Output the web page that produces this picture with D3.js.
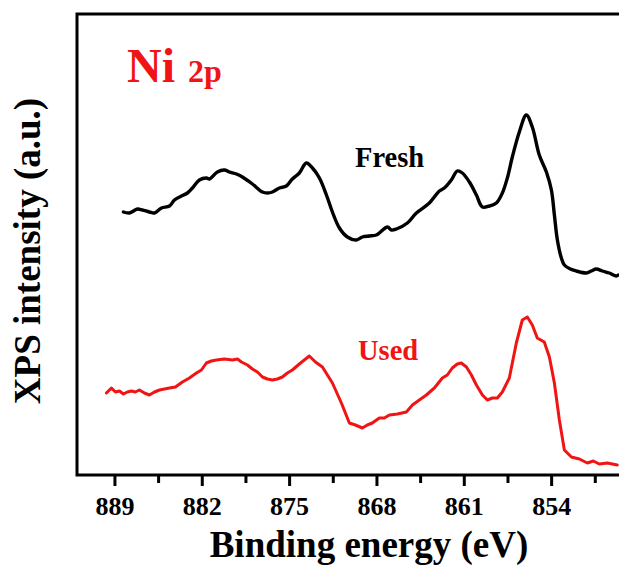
<!DOCTYPE html>
<html>
<head>
<meta charset="utf-8">
<script src="https://cdn.jsdelivr.net/npm/d3@7/dist/d3.min.js"></script>
<style>
  body { margin: 0; background: #fff; }
  svg { display: block; }
  text { font-family: "Liberation Serif", "DejaVu Serif", serif; font-weight: bold; }
</style>
</head>
<body>
<svg width="619" height="567"></svg>
<script>
// Ni 2p XPS spectra (intensity in a.u.)
const freshEnergy = [888.28, 887.80, 887.16, 886.76, 886.20, 885.79, 885.23, 884.59, 884.19, 883.63,
  883.15, 882.75, 882.19, 881.63, 881.39, 880.75, 880.19, 879.79, 879.22, 878.74,
  877.94, 877.14, 876.74, 876.34, 875.78, 875.22, 874.74, 874.18, 873.62, 873.13,
  872.57, 872.01, 871.53, 870.97, 870.33, 869.61, 869.13, 868.57, 868.01, 867.12,
  866.80, 866.40, 865.52, 864.80, 863.76, 862.96, 862.56, 862.00, 861.52, 861.12,
  860.55, 859.99, 859.51, 858.95, 858.39, 857.91, 857.51, 857.11, 856.55, 855.99,
  855.51, 854.95, 854.38, 853.98, 853.74, 853.50, 853.18, 852.94, 852.46, 851.98,
  851.18, 850.78, 850.38, 849.90, 849.34, 848.78, 848.62];
const freshIntensity = [263, 262, 266, 265, 263, 262, 267, 269, 275, 279,
  282, 287, 295, 297, 296, 303, 305, 303, 301, 298,
  291, 283, 282, 283, 287, 289, 296, 302, 312, 307,
  297, 280, 263, 247, 238, 235, 238, 239, 240, 248,
  245, 246, 252, 262, 272, 284, 287, 295, 304, 302,
  293, 280, 268, 269, 272, 282, 297, 318, 343, 360,
  348, 320, 303, 285, 260, 235, 217, 210, 206, 204,
  202, 204, 206, 204, 202, 199, 200];

const usedEnergy = [889.64, 889.24, 888.92, 888.60, 888.28, 887.96, 887.64, 887.32, 887.00, 886.60,
  886.20, 885.79, 885.39, 884.99, 884.59, 884.11, 883.55, 882.99, 882.43, 882.03,
  881.63, 881.23, 880.83, 880.19, 879.54, 879.14, 878.82, 878.34, 877.94, 877.54,
  877.14, 876.74, 876.34, 875.94, 875.54, 875.14, 874.74, 874.18, 873.78, 873.38,
  872.89, 872.33, 871.93, 871.53, 870.81, 870.17, 869.69, 869.13, 868.73, 868.33,
  867.77, 867.37, 866.96, 866.32, 865.60, 865.12, 864.56, 864.00, 863.36, 862.72,
  862.32, 861.92, 861.52, 861.20, 860.79, 860.39, 859.99, 859.51, 859.11, 858.71,
  858.31, 857.91, 857.35, 856.79, 856.31, 855.91, 855.51, 855.11, 854.55, 854.14,
  853.74, 853.34, 852.94, 852.38, 851.74, 851.10, 850.62, 850.14, 849.50, 848.70];
const usedIntensity = [82, 87, 83, 84, 81, 83, 84, 83, 85, 82,
  80, 83, 85, 86, 87, 88, 93, 97, 102, 105,
  112, 114, 115, 116, 115, 116, 113, 110, 106, 103,
  98, 96, 95, 96, 98, 102, 105, 111, 115, 119,
  113, 108, 100, 92, 72, 52, 50, 47, 50, 52,
  57, 57, 60, 61, 63, 70, 75, 80, 87, 97,
  100, 107, 111, 112, 108, 100, 90, 80, 75, 77,
  77, 83, 97, 132, 155, 158, 150, 137, 133, 118,
  92, 55, 25, 18, 16, 12, 14, 11, 12, 10];

const majorTicks = [889, 882, 875, 868, 861, 854];
const minorTicks = [885.5, 878.5, 871.5, 864.5, 857.5, 850.5];

const svg = d3.select('svg');
const red = '#f01414';

const plotLeft = 77, plotTop = 14, plotBottom = 475;
const xScale = d3.scaleLinear().domain([892, 848]).range([plotLeft, 626]);
const yScale = d3.scaleLinear().domain([0, 461]).range([plotBottom, plotTop]);

// frame (right side runs past the window, as in the source picture)
svg.append('rect')
  .attr('x', plotLeft).attr('y', plotTop)
  .attr('width', xScale(848) - plotLeft).attr('height', plotBottom - plotTop)
  .attr('fill', 'none').attr('stroke', '#000').attr('stroke-width', 3);

const minorAxis = d3.axisBottom(xScale).tickValues(minorTicks).tickSize(8).tickFormat('');
const majorAxis = d3.axisBottom(xScale).tickValues(majorTicks).tickSize(11).tickFormat(d3.format('d'));

const minorG = svg.append('g').attr('transform', `translate(0, ${plotBottom})`).call(minorAxis);
const majorG = svg.append('g').attr('transform', `translate(0, ${plotBottom})`)
  .call(majorAxis)
  .attr('font-family', null).attr('font-size', null);
[minorG, majorG].forEach(g => {
  g.select('.domain').remove();
  g.selectAll('.tick line').attr('stroke', '#000').attr('stroke-width', 3);
});
majorG.selectAll('.tick text')
  .attr('y', 40).attr('dy', null)
  .attr('fill', '#000')
  .style('font-size', '26px');

const fresh = freshEnergy.map((e, i) => [e, freshIntensity[i]]);
const used = usedEnergy.map((e, i) => [e, usedIntensity[i]]);

const smoothLine = d3.line()
  .curve(d3.curveCatmullRom.alpha(0.5))
  .x(d => xScale(d[0]))
  .y(d => yScale(d[1]));

const rawLine = d3.line()
  .x(d => xScale(d[0]))
  .y(d => yScale(d[1]));

svg.append('path').datum(fresh)
  .attr('d', smoothLine)
  .attr('fill', 'none').attr('stroke', '#000')
  .attr('stroke-width', 3.4).attr('stroke-linejoin', 'round').attr('stroke-linecap', 'round');

svg.append('path').datum(used)
  .attr('d', rawLine)
  .attr('fill', 'none').attr('stroke', red)
  .attr('stroke-width', 3).attr('stroke-linejoin', 'round').attr('stroke-linecap', 'round');

// labels
const title = svg.append('text').attr('x', 127).attr('y', 82).attr('fill', red);
title.append('tspan').style('font-size', '48px').text('Ni');
title.append('tspan').attr('dx', 13).style('font-size', '32px').text('2p');

svg.append('text').attr('x', 355).attr('y', 167)
  .style('font-size', '28.5px').attr('fill', '#000').text('Fresh');
svg.append('text').attr('x', 358).attr('y', 360)
  .style('font-size', '28.5px').attr('fill', red).text('Used');

svg.append('text')
  .attr('x', 369).attr('y', 557)
  .attr('text-anchor', 'middle')
  .style('font-size', '37px')
  .text('Binding energy (eV)');

svg.append('text')
  .attr('transform', 'translate(40, 251) rotate(-90)')
  .attr('text-anchor', 'middle')
  .style('font-size', '37px')
  .text('XPS intensity (a.u.)');
</script>
</body>
</html>
